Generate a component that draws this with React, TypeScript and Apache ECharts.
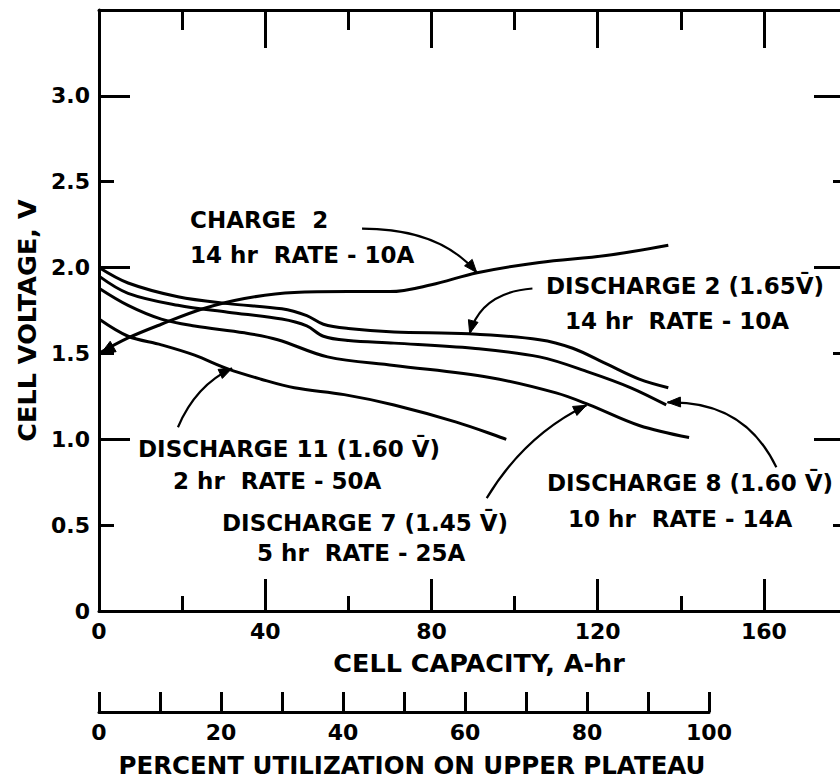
import React, { useEffect, useRef } from 'react';
import * as echarts from 'echarts';

// ---- data ----
const charge2Capacity = [0, 7, 15, 25, 35, 47, 60, 70, 80, 91, 106, 122, 137];
const charge2Voltage = [1.5, 1.59, 1.67, 1.76, 1.82, 1.855, 1.86, 1.86, 1.9, 1.97, 2.03, 2.07, 2.13];

const discharge2Capacity = [0, 7, 19, 31, 44, 50, 54, 60, 71, 89, 106, 114, 122, 130, 137];
const discharge2Voltage = [2.0, 1.91, 1.83, 1.79, 1.76, 1.72, 1.67, 1.645, 1.625, 1.615, 1.58, 1.53, 1.44, 1.35, 1.3];

const discharge8Capacity = [0, 7, 19, 31, 44, 50, 54, 60, 71, 90, 106, 118, 128, 136.5];
const discharge8Voltage = [1.95, 1.85, 1.78, 1.74, 1.7, 1.66, 1.6, 1.575, 1.56, 1.53, 1.48, 1.39, 1.3, 1.2];

const discharge7Capacity = [0, 7, 15, 23, 35, 43, 55, 71, 94, 110, 118, 130, 142];
const discharge7Voltage = [1.88, 1.78, 1.7, 1.66, 1.62, 1.58, 1.48, 1.43, 1.36, 1.27, 1.2, 1.08, 1.01];

const discharge11Capacity = [0, 7, 15, 23, 31, 39, 47, 59, 71, 86, 98];
const discharge11Voltage = [1.7, 1.6, 1.55, 1.49, 1.41, 1.35, 1.3, 1.26, 1.2, 1.1, 1.0];

const capacityTicks = [0, 40, 80, 120, 160];
const voltageTicks = [0, 0.5, 1.0, 1.5, 2.0, 2.5, 3.0];
const percentTicks = [0, 20, 40, 60, 80, 100];

// annotation arrows, in data coordinates: [tail, control, head]
const arrowCharge2 = [[63.3, 2.227], [82, 2.227], [90.9, 1.971]];
const arrowDischarge2 = [[104.3, 1.878], [92, 1.855], [89.2, 1.616]];
const arrowDischarge11 = [[19, 1.07], [23.3, 1.314], [32, 1.413]];
const arrowDischarge7 = [[93.3, 0.657], [102.4, 1.023], [117.3, 1.198]];
const arrowDischarge8 = [[163, 0.837], [155.3, 1.227], [136.8, 1.215]];

const FONT = '"DejaVu Sans", sans-serif';
const BLACK = '#000';

function pairs(xs: number[], ys: number[]) {
  return xs.map((x, i) => [x, ys[i]]);
}

function lineSeries(name: string, xs: number[], ys: number[]) {
  return {
    type: 'line',
    name,
    xAxisIndex: 0,
    yAxisIndex: 0,
    data: pairs(xs, ys),
    symbol: 'none',
    smooth: 0.35,
    lineStyle: { color: BLACK, width: 3 },
    silent: true,
  };
}

export default function App() {
  const ref = useRef<HTMLDivElement>(null);

  useEffect(() => {
    if (!ref.current) return;
    const chart = echarts.init(ref.current, undefined, { renderer: 'svg' });

    const axisLine = { show: true, onZero: false, lineStyle: { color: BLACK, width: 3 } };
    const noLine = { show: false, onZero: false };
    const labelStyle = { color: BLACK, fontFamily: FONT, fontWeight: 'bold', fontSize: 22 };
    const nameStyle = { color: BLACK, fontFamily: FONT, fontWeight: 'bold', fontSize: 25.5 };
    const tick = (length: number) => ({
      show: true, inside: true, length, lineStyle: { color: BLACK, width: 3 },
    });

    const option: any = {
      animation: false,
      backgroundColor: '#fff',
      grid: [
        { left: 99, top: 10, width: 748, height: 601 },
        { left: 99, top: 700, width: 610, height: 12 },
      ],
      xAxis: [
        {
          type: 'value', gridIndex: 0, position: 'bottom', min: 0, max: 180, interval: 40,
          axisLine,
          axisTick: tick(32),
          axisLabel: {
            ...labelStyle, margin: 9,
            formatter: (v: number) => (capacityTicks.includes(v) ? String(v) : ''),
          },
          splitLine: { show: false },
          name: 'CELL CAPACITY, A-hr',
          nameLocation: 'middle',
          nameGap: 39,
          nameTextStyle: { ...nameStyle, padding: [0, 0, 0, 12] },
        },
        {
          type: 'value', gridIndex: 0, position: 'bottom', min: 0, max: 180, interval: 20,
          axisLine: noLine,
          axisTick: tick(15),
          axisLabel: { show: false },
          splitLine: { show: false },
        },
        {
          type: 'value', gridIndex: 0, position: 'top', min: 0, max: 180, interval: 40,
          axisLine,
          axisTick: tick(38),
          axisLabel: { show: false },
          splitLine: { show: false },
        },
        {
          type: 'value', gridIndex: 0, position: 'top', min: 0, max: 180, interval: 20,
          axisLine: noLine,
          axisTick: tick(20),
          axisLabel: { show: false },
          splitLine: { show: false },
        },
        {
          type: 'value', gridIndex: 1, position: 'bottom', min: 0, max: 100, interval: 10,
          axisLine,
          axisTick: tick(20),
          axisLabel: {
            ...labelStyle, margin: 9,
            formatter: (v: number) => (percentTicks.includes(v) ? String(v) : ''),
          },
          splitLine: { show: false },
          name: 'PERCENT UTILIZATION ON UPPER PLATEAU',
          nameLocation: 'middle',
          nameGap: 41,
          nameTextStyle: { ...nameStyle, fontSize: 24.5, padding: [0, 0, 0, 16] },
        },
      ],
      yAxis: [
        {
          type: 'value', gridIndex: 0, position: 'left', min: 0, max: 3.5, interval: 0.5,
          axisLine,
          axisTick: tick(15),
          axisLabel: {
            ...labelStyle, margin: 9,
            formatter: (v: number) => {
              const t = voltageTicks.find((k) => Math.abs(k - v) < 1e-6);
              if (t === undefined) return '';
              return t === 0 ? '0' : t.toFixed(1);
            },
          },
          splitLine: { show: false },
          name: 'CELL VOLTAGE, V',
          nameLocation: 'middle',
          nameGap: 59,
          nameTextStyle: { ...nameStyle, padding: [0, 20, 0, 0] },
        },
        {
          type: 'value', gridIndex: 0, position: 'left', min: 0, max: 3.5, interval: 1,
          axisLine: noLine,
          axisTick: tick(31),
          axisLabel: { show: false },
          splitLine: { show: false },
        },
        {
          type: 'value', gridIndex: 0, position: 'right', min: 0, max: 3.5, interval: 0.5,
          axisLine,
          axisTick: tick(14),
          axisLabel: { show: false },
          splitLine: { show: false },
        },
        {
          type: 'value', gridIndex: 0, position: 'right', min: 0, max: 3.5, interval: 1,
          axisLine: noLine,
          axisTick: tick(33),
          axisLabel: { show: false },
          splitLine: { show: false },
        },
        { type: 'value', gridIndex: 1, show: false, min: 0, max: 1 },
      ],
      series: [
        lineSeries('CHARGE 2', charge2Capacity, charge2Voltage),
        lineSeries('DISCHARGE 2', discharge2Capacity, discharge2Voltage),
        lineSeries('DISCHARGE 8', discharge8Capacity, discharge8Voltage),
        lineSeries('DISCHARGE 7', discharge7Capacity, discharge7Voltage),
        lineSeries('DISCHARGE 11', discharge11Capacity, discharge11Voltage),
      ],
    };

    chart.setOption(option);

    const toPx = (p: number[]) => chart.convertToPixel({ gridIndex: 0 }, p) as number[];

    const arrowHead = (tip: number[], from: number[], len = 13, half = 5) => {
      const dx = tip[0] - from[0];
      const dy = tip[1] - from[1];
      const d = Math.hypot(dx, dy) || 1;
      const ux = dx / d;
      const uy = dy / d;
      const bx = tip[0] - ux * len;
      const by = tip[1] - uy * len;
      return {
        type: 'polygon',
        silent: true,
        shape: { points: [tip, [bx - uy * half, by + ux * half], [bx + uy * half, by - ux * half]] },
        style: { fill: BLACK, stroke: BLACK, lineWidth: 1 },
      };
    };

    const arrow = (def: number[][]) => {
      const [t, c, h] = def.map(toPx);
      return [
        {
          type: 'bezierCurve',
          silent: true,
          shape: { x1: t[0], y1: t[1], cpx1: c[0], cpy1: c[1], x2: h[0], y2: h[1] },
          style: { stroke: BLACK, lineWidth: 2.2, fill: null },
        },
        arrowHead(h, c),
      ];
    };

    const text = (s: string, x: number, y: number, align: string = 'left') => ({
      type: 'text',
      silent: true,
      x,
      y,
      style: {
        text: s,
        fill: BLACK,
        font: `bold 23px ${FONT}`,
        textAlign: align,
        textVerticalAlign: 'middle',
        align,
        verticalAlign: 'middle',
      },
    });

    // arrowhead at the start of the charge curve
    const c0 = toPx([charge2Capacity[0], charge2Voltage[0]]);
    const c1 = toPx([charge2Capacity[1], charge2Voltage[1]]);

    const graphic: any[] = [
      ...arrow(arrowCharge2),
      ...arrow(arrowDischarge2),
      ...arrow(arrowDischarge11),
      ...arrow(arrowDischarge7),
      ...arrow(arrowDischarge8),
      arrowHead([c0[0] + 2, c0[1]], c1, 14, 6),
      text('CHARGE  2', 190, 220),
      text('14 hr  RATE - 10A', 190, 255),
      text('DISCHARGE 2 (1.65V\u0304)', 685, 286, 'center'),
      text('14 hr  RATE - 10A', 677, 321, 'center'),
      text('DISCHARGE 11 (1.60 V\u0304)', 138, 449),
      text('2 hr  RATE - 50A', 173, 481),
      text('DISCHARGE 7 (1.45 V\u0304)', 222, 523),
      text('5 hr  RATE - 25A', 257, 553),
      text('DISCHARGE 8 (1.60 V\u0304)', 547, 483),
      text('10 hr  RATE - 14A', 568, 519),
    ];

    chart.setOption({ graphic });

    return () => chart.dispose();
  }, []);

  return (
    <div
      ref={ref}
      style={{ position: 'fixed', left: 0, top: 0, width: 860, height: 780, background: '#fff' }}
    />
  );
}
